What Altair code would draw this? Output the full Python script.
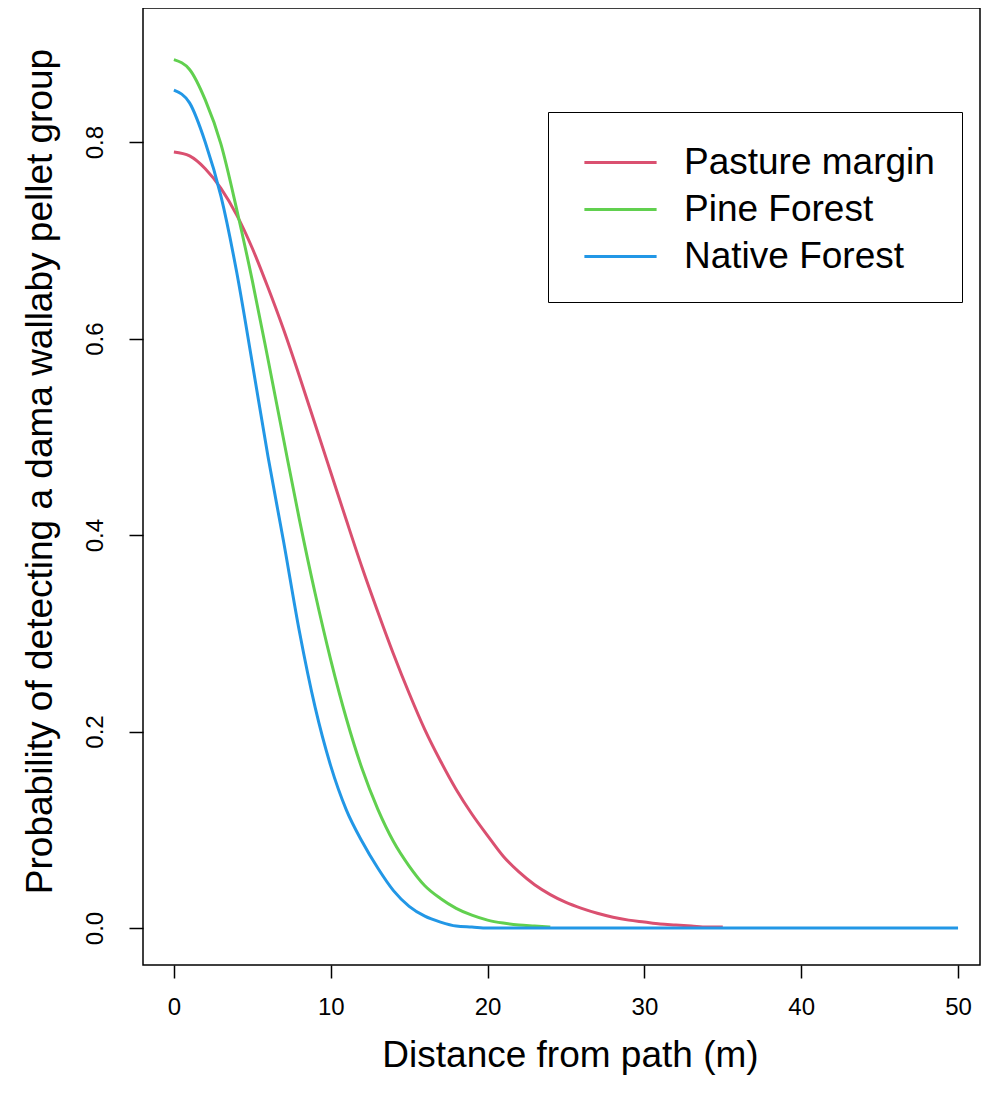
import altair as alt
import pandas as pd

# Distance from path (m)
dist_pasture = list(range(0, 36))
dist_pine = list(range(0, 25))
dist_native = list(range(0, 51))

# Probability of detection
p_pasture = [0.790, 0.786, 0.773, 0.753, 0.726, 0.692, 0.652, 0.609, 0.562, 0.513,
             0.464, 0.415, 0.367, 0.322, 0.279, 0.239, 0.202, 0.170, 0.141, 0.116,
             0.094, 0.073, 0.057, 0.044, 0.034, 0.026, 0.020, 0.015, 0.011, 0.008,
             0.006, 0.004, 0.003, 0.002, 0.001, 0.001]
p_pine = [0.884, 0.874, 0.843, 0.798, 0.732, 0.659, 0.579, 0.497, 0.416, 0.341,
          0.273, 0.213, 0.162, 0.121, 0.088, 0.063, 0.043, 0.030, 0.020, 0.013,
          0.008, 0.005, 0.003, 0.002, 0.001]
p_native = [0.853, 0.840, 0.800, 0.745, 0.668, 0.575, 0.480, 0.393, 0.302, 0.225,
            0.165, 0.120, 0.088, 0.061, 0.038, 0.022, 0.012, 0.006, 0.002, 0.001,
            0.0, 0.0, 0.0, 0.0, 0.0, 0.0, 0.0, 0.0, 0.0, 0.0,
            0.0, 0.0, 0.0, 0.0, 0.0, 0.0, 0.0, 0.0, 0.0, 0.0,
            0.0, 0.0, 0.0, 0.0, 0.0, 0.0, 0.0, 0.0, 0.0, 0.0,
            0.0]

habitats = ["Pasture margin", "Pine Forest", "Native Forest"]
colors = ["#DA5070", "#61D04F", "#2297E6"]
x_ticks = [0, 10, 20, 30, 40, 50]
y_ticks = [0.0, 0.2, 0.4, 0.6, 0.8]

rows = []
for h, ds, ps in zip(habitats, [dist_pasture, dist_pine, dist_native],
                     [p_pasture, p_pine, p_native]):
    for d, p in zip(ds, ps):
        rows.append({"habitat": h, "distance": d, "prob": p})
df = pd.DataFrame(rows)

FONT = "Liberation Sans"

chart = alt.Chart(df).mark_line(strokeWidth=3, interpolate="monotone", clip=True).encode(
    x=alt.X("distance:Q",
            scale=alt.Scale(domain=[-1.97, 51.4], nice=False, zero=False),
            axis=alt.Axis(title="Distance from path (m)", values=x_ticks, format="d",
                          labelFontSize=24, titleFontSize=37, tickSize=13,
                          labelPadding=17, titlePadding=18, titleX=427)),
    y=alt.Y("prob:Q",
            scale=alt.Scale(domain=[-0.0377, 0.9366], nice=False, zero=False),
            axis=alt.Axis(title="Probability of detecting a dama wallaby pellet group",
                          values=y_ticks, format=".1f", labelAngle=270,
                          labelFontSize=24, titleFontSize=37, tickSize=14,
                          labelPadding=22, titlePadding=24, titleY=463)),
    color=alt.Color("habitat:N",
                    scale=alt.Scale(domain=habitats, range=colors),
                    sort=habitats,
                    legend=alt.Legend(title=None, orient="none", legendX=405, legendY=104,
                                      strokeColor="black", padding=27,
                                      symbolType="M-1.66,0H1.66", symbolSize=1892,
                                      symbolStrokeWidth=3, symbolOffset=22,
                                      labelFontSize=37, labelOffset=40, rowPadding=5,
                                      labelLimit=500,
                                      labelFont=FONT, labelColor="black")),
    detail="habitat:N",
).properties(
    width=837,
    height=957,
    autosize=alt.AutoSizeParams(type="none"),
    padding={"left": 135, "top": 0, "right": 1, "bottom": 116},
).configure_view(
    stroke="black", strokeWidth=1.5
).configure_axis(
    domain=False, grid=False, tickColor="black", tickWidth=1.5,
    labelFont=FONT, titleFont=FONT, labelColor="black", titleColor="black",
    titleFontWeight="normal"
)

chart.save("out.html", embed_options={"renderer": "svg", "actions": False})
